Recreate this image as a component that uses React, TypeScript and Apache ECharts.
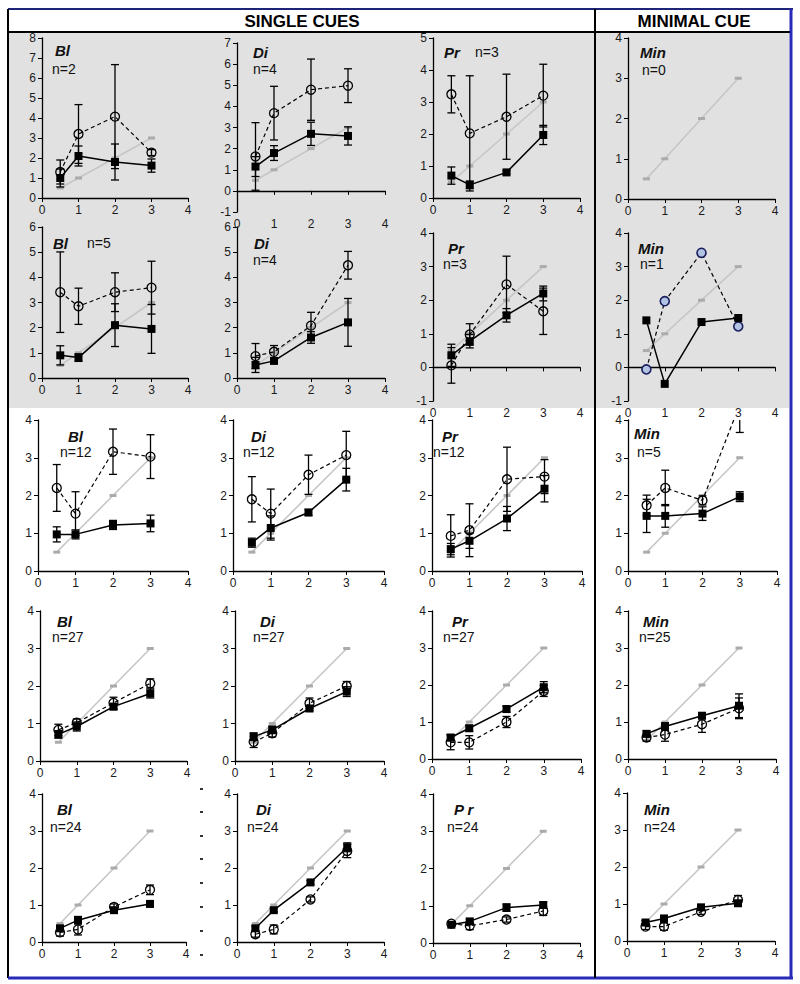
import React, { useEffect, useRef } from "react";
import * as echarts from "echarts";

// shared x positions and identity reference line
const X = [0.5, 1, 2, 3];
const REF = [0.5, 1, 2, 3];

// ---- Row 1 ----
const r1BlSq = [1.0, 2.1, 1.8, 1.62];
const r1BlSqErr = [0.45, 0.5, 0.9, 0.33];
const r1BlCi = [1.3, 3.2, 4.07, 2.27];
const r1BlCiErr = [0.6, 1.47, 2.6, 0.15];

const r1DiSq = [1.15, 1.79, 2.7, 2.6];
const r1DiSqErr = [0.47, 0.35, 0.55, 0.43];
const r1DiCi = [1.63, 3.68, 4.79, 4.98];
const r1DiCiErr = [1.6, 1.27, 1.45, 0.8];

const r1PrSq = [0.7, 0.41, 0.8, 1.97];
const r1PrSqErr = [0.27, 0.12, 0.05, 0.3];
const r1PrCi = [3.24, 2.02, 2.54, 3.2];
const r1PrCiErr = [0.58, 1.8, 1.33, 0.98];

// ---- Row 2 ----
const r2BlSq = [0.9, 0.81, 2.1, 1.95];
const r2BlSqErr = [0.38, 0.15, 0.85, 0.97];
const r2BlCi = [3.41, 2.85, 3.41, 3.59];
const r2BlCiErr = [1.6, 0.72, 0.77, 1.05];

const r2DiSq = [0.52, 0.68, 1.61, 2.21];
const r2DiSqErr = [0.3, 0.1, 0.23, 0.95];
const r2DiCi = [0.87, 1.04, 2.08, 4.48];
const r2DiCiErr = [0.5, 0.25, 0.53, 0.55];

const r2PrSq = [0.36, 0.78, 1.55, 2.2];
const r2PrSqErr = [0.33, 0.2, 0.2, 0.22];
const r2PrCi = [0.06, 0.98, 2.47, 1.67];
const r2PrCiErr = [0.53, 0.32, 0.84, 0.69];

const r2MinSq = [1.4, -0.49, 1.35, 1.47];
const r2MinCi = [-0.06, 1.97, 3.41, 1.22];

// ---- Row 3 ----
const r3BlSq = [0.97, 0.97, 1.22, 1.26];
const r3BlSqErr = [0.2, 0.12, 0.12, 0.22];
const r3BlCi = [2.2, 1.52, 3.16, 3.03];
const r3BlCiErr = [0.62, 0.58, 0.6, 0.58];

const r3DiSq = [0.75, 1.14, 1.55, 2.42];
const r3DiSqErr = [0.12, 0.32, 0.08, 0.3];
const r3DiCi = [1.9, 1.52, 2.55, 3.07];
const r3DiCiErr = [0.6, 0.65, 0.52, 0.63];

const r3PrSq = [0.58, 0.8, 1.39, 2.18];
const r3PrSqErr = [0.15, 0.2, 0.32, 0.35];
const r3PrCi = [0.93, 1.08, 2.43, 2.5];
const r3PrCiErr = [0.56, 0.7, 0.85, 0.45];

const r3MinSq = [1.46, 1.46, 1.52, 1.97];
const r3MinSqErr = [0.44, 0.3, 0.18, 0.13];
const r3MinCi = [1.74, 2.2, 1.87, 4.41];
const r3MinCiErr = [0.27, 0.47, 0.12, 0.74];

// ---- Row 4 ----
const r4BlSq = [0.71, 0.92, 1.45, 1.8];
const r4BlSqErr = [0.1, 0.12, 0.08, 0.12];
const r4BlCi = [0.83, 1.02, 1.55, 2.07];
const r4BlCiErr = [0.15, 0.1, 0.15, 0.12];

const r4DiSq = [0.65, 0.83, 1.4, 1.85];
const r4DiSqErr = [0.1, 0.1, 0.06, 0.13];
const r4DiCi = [0.51, 0.74, 1.54, 2.0];
const r4DiCiErr = [0.15, 0.1, 0.14, 0.12];

const r4PrSq = [0.58, 0.83, 1.35, 1.94];
const r4PrSqErr = [0.08, 0.08, 0.08, 0.15];
const r4PrCi = [0.45, 0.45, 1.0, 1.84];
const r4PrCiErr = [0.2, 0.18, 0.15, 0.15];

const r4MinSq = [0.68, 0.88, 1.17, 1.44];
const r4MinSqErr = [0.08, 0.1, 0.08, 0.32];
const r4MinCi = [0.58, 0.66, 0.94, 1.37];
const r4MinCiErr = [0.1, 0.18, 0.22, 0.28];

// ---- Row 5 ----
const r5BlSq = [0.37, 0.59, 0.86, 1.03];
const r5BlSqErr = [0.07, 0.1, 0.05, 0.08];
const r5BlCi = [0.26, 0.34, 0.95, 1.41];
const r5BlCiErr = [0.1, 0.15, 0.08, 0.13];

const r5DiSq = [0.37, 0.86, 1.61, 2.56];
const r5DiSqErr = [0.06, 0.05, 0.05, 0.12];
const r5DiCi = [0.21, 0.34, 1.15, 2.46];
const r5DiCiErr = [0.08, 0.12, 0.07, 0.18];

const r5PrSq = [0.49, 0.58, 0.95, 1.02];
const r5PrSqErr = [0.05, 0.06, 0.1, 0.08];
const r5PrCi = [0.52, 0.46, 0.63, 0.86];
const r5PrCiErr = [0.05, 0.1, 0.07, 0.12];

const r5MinSq = [0.5, 0.61, 0.91, 1.02];
const r5MinSqErr = [0.05, 0.05, 0.05, 0.05];
const r5MinCi = [0.39, 0.39, 0.79, 1.11];
const r5MinCiErr = [0.08, 0.1, 0.07, 0.12];

type Panel = {
  g: [number, number, number, number];
  yMin: number;
  yMax: number;
  name: string;
  nText: string;
  namePos: [number, number];
  nPos: [number, number];
  sq?: number[];
  sqErr?: number[];
  ci?: number[];
  ciErr?: number[];
  blueCircles?: boolean;
};

const panels: Panel[] = [
  // row 1
  { g: [42, 38, 146, 160], yMin: 0, yMax: 8, name: "Bl", nText: "n=2", namePos: [55, 50], nPos: [52, 69], sq: r1BlSq, sqErr: r1BlSqErr, ci: r1BlCi, ciErr: r1BlCiErr },
  { g: [237, 43, 148, 169], yMin: -1, yMax: 7, name: "Di", nText: "n=4", namePos: [253, 52], nPos: [253, 69], sq: r1DiSq, sqErr: r1DiSqErr, ci: r1DiCi, ciErr: r1DiCiErr },
  { g: [433, 38, 147, 160], yMin: 0, yMax: 5, name: "Pr", nText: "n=3", namePos: [444, 52], nPos: [475, 52], sq: r1PrSq, sqErr: r1PrSqErr, ci: r1PrCi, ciErr: r1PrCiErr },
  { g: [628, 38, 147, 161], yMin: 0, yMax: 4, name: "Min", nText: "n=0", namePos: [640, 52], nPos: [642, 70] },
  // row 2
  { g: [42, 227, 146, 151], yMin: 0, yMax: 6, name: "Bl", nText: "n=5", namePos: [53, 243], nPos: [87, 243], sq: r2BlSq, sqErr: r2BlSqErr, ci: r2BlCi, ciErr: r2BlCiErr },
  { g: [237, 227, 148, 151], yMin: 0, yMax: 6, name: "Di", nText: "n=4", namePos: [254, 243], nPos: [253, 260], sq: r2DiSq, sqErr: r2DiSqErr, ci: r2DiCi, ciErr: r2DiCiErr },
  { g: [433, 233, 147, 168], yMin: -1, yMax: 4, name: "Pr", nText: "n=3", namePos: [448, 248], nPos: [443, 264], sq: r2PrSq, sqErr: r2PrSqErr, ci: r2PrCi, ciErr: r2PrCiErr },
  { g: [628, 233, 147, 168], yMin: -1, yMax: 4, name: "Min", nText: "n=1", namePos: [638, 248], nPos: [640, 264], sq: r2MinSq, ci: r2MinCi, blueCircles: true },
  // row 3
  { g: [38, 420, 150, 151], yMin: 0, yMax: 4, name: "Bl", nText: "n=12", namePos: [68, 436], nPos: [60, 452], sq: r3BlSq, sqErr: r3BlSqErr, ci: r3BlCi, ciErr: r3BlCiErr },
  { g: [233, 420, 151, 151], yMin: 0, yMax: 4, name: "Di", nText: "n=12", namePos: [251, 436], nPos: [243, 452], sq: r3DiSq, sqErr: r3DiSqErr, ci: r3DiCi, ciErr: r3DiCiErr },
  { g: [432, 420, 150, 151], yMin: 0, yMax: 4, name: "Pr", nText: "n=12", namePos: [442, 436], nPos: [433, 452], sq: r3PrSq, sqErr: r3PrSqErr, ci: r3PrCi, ciErr: r3PrCiErr },
  { g: [628, 420, 149, 151], yMin: 0, yMax: 4, name: "Min", nText: "n=5", namePos: [634, 433], nPos: [637, 452], sq: r3MinSq, sqErr: r3MinSqErr, ci: r3MinCi, ciErr: r3MinCiErr },
  // row 4
  { g: [40, 611, 147, 150], yMin: 0, yMax: 4, name: "Bl", nText: "n=27", namePos: [57, 621], nPos: [52, 637], sq: r4BlSq, sqErr: r4BlSqErr, ci: r4BlCi, ciErr: r4BlCiErr },
  { g: [235, 611, 149, 150], yMin: 0, yMax: 4, name: "Di", nText: "n=27", namePos: [260, 621], nPos: [253, 637], sq: r4DiSq, sqErr: r4DiSqErr, ci: r4DiCi, ciErr: r4DiCiErr },
  { g: [432, 611, 149, 148], yMin: 0, yMax: 4, name: "Pr", nText: "n=27", namePos: [452, 621], nPos: [443, 637], sq: r4PrSq, sqErr: r4PrSqErr, ci: r4PrCi, ciErr: r4PrCiErr },
  { g: [628, 611, 148, 148], yMin: 0, yMax: 4, name: "Min", nText: "n=25", namePos: [643, 621], nPos: [639, 637], sq: r4MinSq, sqErr: r4MinSqErr, ci: r4MinCi, ciErr: r4MinCiErr },
  // row 5
  { g: [42, 794, 144, 148], yMin: 0, yMax: 4, name: "Bl", nText: "n=24", namePos: [57, 809], nPos: [50, 827], sq: r5BlSq, sqErr: r5BlSqErr, ci: r5BlCi, ciErr: r5BlCiErr },
  { g: [237, 794, 147, 148], yMin: 0, yMax: 4, name: "Di", nText: "n=24", namePos: [256, 809], nPos: [247, 827], sq: r5DiSq, sqErr: r5DiSqErr, ci: r5DiCi, ciErr: r5DiCiErr },
  { g: [433, 794, 147, 149], yMin: 0, yMax: 4, name: "P r", nText: "n=24", namePos: [454, 809], nPos: [447, 827], sq: r5PrSq, sqErr: r5PrSqErr, ci: r5PrCi, ciErr: r5PrCiErr },
  { g: [627, 793, 148, 148], yMin: 0, yMax: 4, name: "Min", nText: "n=24", namePos: [644, 809], nPos: [644, 827], sq: r5MinSq, sqErr: r5MinSqErr, ci: r5MinCi, ciErr: r5MinCiErr },
];

const FONT = "'Liberation Sans', Arial, Helvetica, sans-serif";
const BLUE = "#2a2ab8";

function errRender(params: any, api: any) {
  const x = api.value(0);
  const lo = api.value(1);
  const hi = api.value(2);
  const pLo = api.coord([x, lo]);
  const pHi = api.coord([x, hi]);
  const cs = params.coordSys;
  const top = cs.y;
  const bot = cs.y + cs.height;
  const y1 = Math.max(pHi[1], top);
  const y2 = Math.min(pLo[1], bot);
  const cx = pLo[0];
  const w = 4;
  const st = { stroke: "#000", lineWidth: 1.3 };
  const children: any[] = [];
  if (y2 > y1) children.push({ type: "line", shape: { x1: cx, y1, x2: cx, y2 }, style: st });
  if (pHi[1] >= top && pHi[1] <= bot)
    children.push({ type: "line", shape: { x1: cx - w, y1: pHi[1], x2: cx + w, y2: pHi[1] }, style: st });
  if (pLo[1] >= top && pLo[1] <= bot)
    children.push({ type: "line", shape: { x1: cx - w, y1: pLo[1], x2: cx + w, y2: pLo[1] }, style: st });
  return { type: "group", children };
}

export default function App() {
  const ref = useRef<HTMLDivElement>(null);
  useEffect(() => {
    if (!ref.current) return;
    const chart = echarts.init(ref.current, undefined, { renderer: "svg" });
    const grid: any[] = [];
    const xAxis: any[] = [];
    const yAxis: any[] = [];
    const series: any[] = [];
    const graphic: any[] = [];

    // backgrounds & frame
    graphic.push(
      { type: "rect", shape: { x: 9, y: 33, width: 586, height: 375 }, style: { fill: "#e1e1e1" }, z: -10 },
      { type: "rect", shape: { x: 596, y: 33, width: 193, height: 375 }, style: { fill: "#e1e1e1" }, z: -10 },
      { type: "line", shape: { x1: 8, y1: 9, x2: 793, y2: 9 }, style: { stroke: "#1e2478", lineWidth: 2 }, z: 10 },
      { type: "line", shape: { x1: 8, y1: 9, x2: 8, y2: 978 }, style: { stroke: "#000", lineWidth: 2 }, z: 10 },
      { type: "line", shape: { x1: 791, y1: 9, x2: 791, y2: 978 }, style: { stroke: BLUE, lineWidth: 3 }, z: 10 },
      { type: "line", shape: { x1: 8, y1: 978, x2: 793, y2: 978 }, style: { stroke: BLUE, lineWidth: 3 }, z: 10 },
      { type: "line", shape: { x1: 8, y1: 32, x2: 790, y2: 32 }, style: { stroke: "#000", lineWidth: 2 }, z: 10 },
      { type: "line", shape: { x1: 595, y1: 9, x2: 595, y2: 978 }, style: { stroke: "#000", lineWidth: 2 }, z: 10 },
      { type: "text", x: 302, y: 21, style: { text: "SINGLE CUES", font: `bold 17px ${FONT}`, fill: "#000", align: "center", verticalAlign: "middle" } },
      { type: "text", x: 694, y: 21, style: { text: "MINIMAL CUE", font: `bold 17px ${FONT}`, fill: "#000", align: "center", verticalAlign: "middle" } }
    );
    [789, 812, 836, 859, 883, 907, 931, 955].forEach((yy) =>
      graphic.push({ type: "rect", shape: { x: 200, y: yy - 1, width: 3, height: 2 }, style: { fill: "#333" } })
    );

    panels.forEach((p, i) => {
      grid.push({ left: p.g[0], top: p.g[1], width: p.g[2], height: p.g[3] });
      xAxis.push({
        gridIndex: i, type: "value", min: 0, max: 4, interval: 1,
        axisLine: { show: true, onZero: true, lineStyle: { color: "#000", width: 1.3 } },
        axisTick: { show: true, length: 4, lineStyle: { color: "#000" } },
        axisLabel: { fontSize: 12, color: "#1a1a1a", fontFamily: FONT, margin: 6 },
        splitLine: { show: false },
      });
      yAxis.push({
        gridIndex: i, type: "value", min: p.yMin, max: p.yMax, interval: 1,
        axisLine: { show: true, onZero: false, lineStyle: { color: "#000", width: 1.3 } },
        axisTick: { show: true, length: 4, lineStyle: { color: "#000" } },
        axisLabel: { fontSize: 12, color: "#1a1a1a", fontFamily: FONT, margin: 6 },
        splitLine: { show: false },
      });
      series.push({
        type: "line", xAxisIndex: i, yAxisIndex: i,
        data: X.map((x, k) => [x, REF[k]]),
        lineStyle: { color: "#c6c6c6", width: 1.6 },
        symbol: "rect", symbolSize: [7, 3], itemStyle: { color: "#ababab" },
        silent: true, z: 1,
      });
      if (p.ci && p.ciErr) {
        const ce = p.ciErr;
        series.push({
          type: "custom", xAxisIndex: i, yAxisIndex: i, renderItem: errRender,
          data: X.map((x, k) => [x, p.ci![k] - ce[k], p.ci![k] + ce[k]]),
          encode: { x: 0, y: [1, 2] }, z: 2, silent: true,
        });
      }
      if (p.sq && p.sqErr) {
        const se = p.sqErr;
        series.push({
          type: "custom", xAxisIndex: i, yAxisIndex: i, renderItem: errRender,
          data: X.map((x, k) => [x, p.sq![k] - se[k], p.sq![k] + se[k]]),
          encode: { x: 0, y: [1, 2] }, z: 2, silent: true,
        });
      }
      if (p.ci) {
        series.push({
          type: "line", xAxisIndex: i, yAxisIndex: i,
          data: X.map((x, k) => [x, p.ci![k]]),
          lineStyle: { color: "#000", width: 1.2, type: [4, 3] },
          symbol: "circle", symbolSize: 9,
          itemStyle: p.blueCircles
            ? { color: "#b2c2e2", borderColor: "#1a1f5e", borderWidth: 1.6 }
            : { color: "rgba(0,0,0,0)", borderColor: "#000", borderWidth: 1.3 },
          clip: true, z: 3,
        });
      }
      if (p.sq) {
        series.push({
          type: "line", xAxisIndex: i, yAxisIndex: i,
          data: X.map((x, k) => [x, p.sq![k]]),
          lineStyle: { color: "#000", width: 1.5 },
          symbol: "rect", symbolSize: 8,
          itemStyle: { color: "#000" },
          clip: true, z: 3,
        });
      }
      graphic.push(
        { type: "text", x: p.namePos[0], y: p.namePos[1], style: { text: p.name, font: `italic bold 15px ${FONT}`, fill: "#111", align: "left", verticalAlign: "middle" } },
        { type: "text", x: p.nPos[0], y: p.nPos[1], style: { text: p.nText, font: `14px ${FONT}`, fill: "#111", align: "left", verticalAlign: "middle" } }
      );
    });

    chart.setOption({
      animation: false,
      backgroundColor: "#fff",
      grid, xAxis, yAxis, series, graphic,
    });
    return () => chart.dispose();
  }, []);
  return <div ref={ref} style={{ position: "absolute", left: 0, top: 0, width: 800, height: 984 }} />;
}
